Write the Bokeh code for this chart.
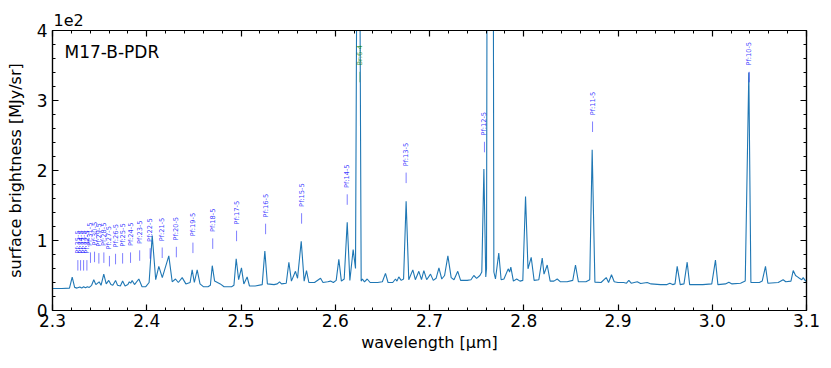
import math
from bokeh.plotting import figure
from bokeh.models import (SingleIntervalTicker, LinearAxis, Label, CustomJSTickFormatter,
                          ColumnDataSource, Range1d)
from bokeh.core.properties import value
from bokeh.embed import file_html
from bokeh.resources import INLINE

# ---------------- data ----------------
wave = [2.300, 2.310, 2.318, 2.3209, 2.3235, 2.326, 2.329, 2.331, 2.333, 2.335, 2.337, 2.339,
        2.3415, 2.3438, 2.346, 2.3495, 2.3515, 2.3544, 2.357, 2.3597, 2.362, 2.364, 2.3669, 2.369,
        2.372, 2.3744, 2.377, 2.380, 2.3815, 2.383, 2.3845, 2.387, 2.3916, 2.395, 2.399, 2.4025,
        2.4058, 2.4095, 2.4128, 2.4165, 2.4234, 2.427, 2.4305, 2.4335, 2.4376, 2.4415, 2.446, 2.4482,
        2.4505, 2.4535, 2.4565, 2.460, 2.465, 2.4675, 2.4695, 2.472, 2.475, 2.478, 2.482, 2.490,
        2.4925, 2.4949, 2.4975, 2.5005, 2.503, 2.5065, 2.509, 2.515, 2.5225, 2.5253, 2.528, 2.535,
        2.5385, 2.5409, 2.543, 2.548, 2.5508, 2.5535, 2.5578, 2.560, 2.5639, 2.567, 2.5695, 2.572,
        2.578, 2.5844, 2.587, 2.592, 2.595, 2.598, 2.601, 2.6038, 2.6065, 2.6095, 2.6127, 2.6155,
        2.619, 2.6215, 2.6245, 2.6275, 2.6288, 2.631, 2.6339, 2.637, 2.645, 2.650, 2.6533, 2.656,
        2.661, 2.6639, 2.6655, 2.6674, 2.670, 2.6725, 2.6752, 2.678, 2.6823, 2.685, 2.6887, 2.6915,
        2.694, 2.697, 2.7011, 2.704, 2.707, 2.710, 2.713, 2.716, 2.7195, 2.723, 2.726, 2.730,
        2.733, 2.740, 2.744, 2.747, 2.750, 2.7535, 2.7555, 2.7577, 2.7597, 2.7605, 2.7643, 2.7683,
        2.7700, 2.7735, 2.776, 2.779, 2.7835, 2.785, 2.7863, 2.789, 2.7925, 2.796, 2.799, 2.8019,
        2.8045, 2.8079, 2.811, 2.816, 2.8196, 2.8215, 2.8249, 2.828, 2.832, 2.8355, 2.839, 2.846,
        2.852, 2.8549, 2.858, 2.866, 2.870, 2.8726, 2.8755, 2.882, 2.8875, 2.890, 2.8931, 2.896,
        2.900, 2.906, 2.909, 2.9115, 2.914, 2.9204, 2.924, 2.931, 2.935, 2.945, 2.952, 2.955,
        2.958, 2.9605, 2.9628, 2.966, 2.970, 2.9734, 2.976, 2.990, 2.9995, 3.0034, 3.006, 3.014,
        3.0176, 3.021, 3.030, 3.035, 3.0388, 3.041, 3.050, 3.053, 3.0565, 3.059, 3.070, 3.0752,
        3.078, 3.0835, 3.0859, 3.0884, 3.0905, 3.0925, 3.095, 3.0965, 3.099, 3.100]

flux = [31.5, 31.5, 32.0, 47.6, 33.0, 32.0, 33.5, 32.0, 34.0, 32.5, 34.0, 33.0,
        36.0, 44.0, 37.0, 41.0, 36.0, 52.0, 38.0, 43.0, 37.0, 36.0, 43.0, 36.0,
        35.0, 42.0, 35.0, 37.0, 41.0, 39.0, 43.0, 37.0, 45.0, 34.0, 34.0, 40.0,
        107.0, 44.0, 63.0, 47.0, 78.0, 41.0, 45.0, 40.0, 47.0, 38.0, 40.0, 58.0,
        40.0, 58.0, 38.0, 34.0, 34.0, 36.0, 64.0, 42.0, 40.0, 38.0, 34.0, 34.0,
        36.0, 74.0, 44.0, 61.0, 38.0, 48.0, 35.0, 35.0, 37.0, 85.0, 38.0, 37.0,
        38.0, 41.0, 38.0, 39.0, 69.0, 42.0, 56.0, 46.0, 99.0, 42.0, 57.0, 40.0,
        40.0, 46.0, 40.0, 41.0, 42.0, 40.0, 43.0, 73.0, 42.0, 45.0, 126.0, 43.0,
        87.0, 60.0, 1000.0, 42.0, 45.0, 41.0, 45.0, 40.0, 40.0, 41.0, 53.0, 40.0,
        40.0, 45.0, 42.0, 48.0, 43.0, 45.0, 156.0, 44.0, 58.0, 44.0, 56.0, 44.0,
        57.0, 44.0, 52.0, 43.0, 46.0, 61.0, 45.0, 50.0, 78.0, 47.0, 44.0, 56.0,
        43.0, 43.0, 44.0, 50.0, 46.0, 50.0, 55.0, 202.0, 48.0, 60.0, 3000.0, 55.0,
        45.0, 82.0, 44.0, 45.0, 59.5, 55.0, 62.0, 42.0, 45.0, 42.0, 43.0, 163.0,
        59.5, 76.0, 43.0, 44.0, 75.0, 52.0, 65.0, 42.0, 42.0, 45.0, 41.0, 41.0,
        43.0, 65.0, 41.0, 41.0, 44.0, 229.5, 40.5, 40.0, 47.0, 40.0, 51.0, 41.0,
        40.0, 40.0, 39.0, 43.0, 39.0, 41.0, 38.5, 40.0, 38.0, 37.0, 37.0, 39.0,
        37.0, 38.0, 63.0, 37.0, 38.0, 69.0, 37.0, 37.0, 38.0, 72.0, 37.0, 38.0,
        40.5, 38.0, 39.0, 42.0, 340.0, 40.0, 40.0, 42.0, 63.0, 39.0, 40.0, 44.0,
        41.0, 42.0, 57.0, 50.0, 48.0, 46.0, 44.0, 47.0, 42.0, 44.0]

line_names = ["Pf:10-5", "Pf:11-5", "Pf:12-5", "Pf:13-5", "Pf:14-5", "Pf:15-5", "Pf:16-5",
              "Pf:17-5", "Pf:18-5", "Pf:19-5", "Pf:20-5", "Pf:21-5", "Pf:22-5", "Pf:23-5",
              "Pf:24-5", "Pf:25-5", "Pf:26-5", "Pf:27-5", "Pf:28-5", "Pf:29-5", "Pf:30-5",
              "Pf:31-5", "Pf:32-5", "Pf:33-5", "Pf:34-5", "Pf:35-5", "Br:6-4"]
line_waves = [3.0392, 2.8730, 2.7583, 2.6752, 2.6127, 2.5643, 2.5261, 2.4953, 2.4700, 2.4490,
              2.4314, 2.4164, 2.4036, 2.3925, 2.3828, 2.3744, 2.3669, 2.3604, 2.3545, 2.3492,
              2.3446, 2.3403, 2.3365, 2.3330, 2.3298, 2.3269, 2.6259]
label_base = [326, 255, 226, 182, 151, 124, 109, 99, 88, 82, 76, 75, 74, 71, 68, 67, 66, 63,
              68, 67, 69, 68, 57, 57, 57, 57, 326]
line_series = ["Pf"] * 26 + ["Br"]

TICK_LEN = 15
TEXT_GAP = 24
colors = ["blue" if s == "Pf" else "green" for s in line_series]

src = ColumnDataSource(dict(
    x=line_waves,
    y0=label_base,
    y1=[b + TICK_LEN for b in label_base],
    yt=[b + TEXT_GAP for b in label_base],
    name=line_names,
    color=colors,
    salpha=[0.5 if s == "Pf" else 0.35 for s in line_series],
))

FONT = "DejaVu Sans"

p = figure(width=831, height=368, x_range=Range1d(2.3, 3.1), y_range=Range1d(0, 400),
           output_backend="svg", toolbar_location=None,
           min_border_left=52, min_border_right=25, min_border_top=30, min_border_bottom=58)
p.background_fill_color = "white"
p.border_fill_color = "white"
p.xgrid.visible = False
p.ygrid.visible = False
p.outline_line_color = "black"
p.outline_line_width = 1.2
p.outline_line_alpha = 1.0

p.title.text = "1e2"
p.title.align = "left"
p.title.text_font = FONT
p.title.text_font_size = "16px"
p.title.text_font_style = "normal"
p.title.text_color = "black"
p.title.standoff = 10
p.title.offset = 1

p.line(wave, flux, line_color="#1f77b4", line_width=1.1)

p.segment(x0="x", y0="y0", x1="x", y1="y1", source=src, line_color="color",
          line_alpha="salpha", line_width=1)
p.text(x="x", y="yt", text="name", source=src, angle=math.pi / 2,
       text_font=value(FONT), text_font_size="6.7px", text_color="color",
       text_alpha=0.8, text_align="left", text_baseline="middle")

xt = SingleIntervalTicker(interval=0.1, num_minor_ticks=5)
yt = SingleIntervalTicker(interval=100, num_minor_ticks=5)


def style_axis(ax, show_labels):
    ax.major_tick_in = 6
    ax.major_tick_out = 0
    ax.minor_tick_in = 3
    ax.minor_tick_out = 0
    ax.major_tick_line_color = "black"
    ax.minor_tick_line_color = "black"
    ax.major_tick_line_width = 1.2
    ax.minor_tick_line_width = 1
    ax.axis_line_color = "black"
    ax.axis_line_width = 1.2
    if show_labels:
        ax.major_label_text_font = FONT
        ax.major_label_text_font_size = "17px"
        ax.major_label_text_color = "black"
        ax.axis_label_text_font = FONT
        ax.axis_label_text_font_size = "16px"
        ax.axis_label_text_font_style = "normal"
        ax.axis_label_text_color = "black"
    else:
        ax.major_label_text_font_size = "0px"
        ax.major_label_standoff = 0


xax = p.xaxis[0]
xax.ticker = xt
xax.formatter = CustomJSTickFormatter(code="return tick.toFixed(1);")
xax.axis_label = "wavelength [µm]"
style_axis(xax, True)
xax.major_label_standoff = 3
xax.axis_label_standoff = 3

yax = p.yaxis[0]
yax.ticker = yt
yax.formatter = CustomJSTickFormatter(code="return (tick / 100).toFixed(0);")
yax.axis_label = "surface brightness [MJy/sr]"
style_axis(yax, True)
yax.major_label_standoff = 5
yax.axis_label_standoff = 9

top = LinearAxis(ticker=SingleIntervalTicker(interval=0.1, num_minor_ticks=5),
                 formatter=CustomJSTickFormatter(code="return '';"))
style_axis(top, False)
p.add_layout(top, "above")
right = LinearAxis(ticker=SingleIntervalTicker(interval=100, num_minor_ticks=5),
                   formatter=CustomJSTickFormatter(code="return '';"))
style_axis(right, False)
p.add_layout(right, "right")

p.add_layout(Label(x=2.3127, y=370, text="M17-B-PDR", text_font=FONT, text_font_size="17px",
                   text_color="black", text_baseline="alphabetic", text_align="left"))

open("out.html", "w").write(file_html(p, INLINE))
